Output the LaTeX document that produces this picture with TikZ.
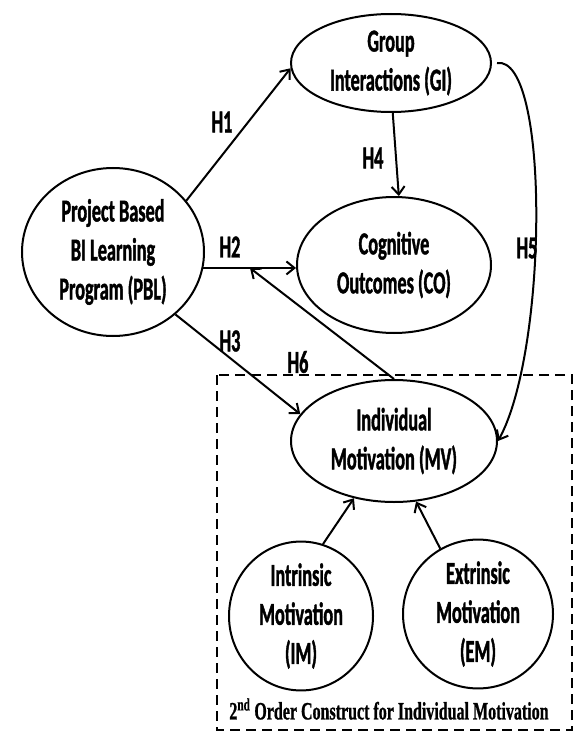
\documentclass[tikz,border=0pt]{standalone}
\usepackage{fontspec}
\usetikzlibrary{shapes.geometric,arrows.meta}
\newfontfamily\lblfont{Carlito}[FakeStretch=0.57,FakeBold=1.2]
\newfontfamily\notefont{Liberation Serif}[FakeStretch=0.64,FakeBold=0.8]

\begin{document}
\begin{tikzpicture}[x=1pt,y=-1pt]
\tikzstyle{every node}+=[inner sep=0pt]
\tikzstyle{construct}=[draw=black, line width=2pt, ellipse, align=center, font=\lblfont\bfseries\fontsize{32}{39}\selectfont]
\tikzstyle{hyp}=[draw=black, line width=2pt, -{Straight Barb[length=8pt,width=13pt,line width=2pt]}]
\tikzstyle{hlabel}=[font=\lblfont\bfseries\fontsize{32}{34}\selectfont]
\useasboundingbox (0,0) rectangle (576,738);

% constructs
\node [construct, minimum width=182pt, minimum height=168pt] (pbl) at (113,252) {Project Based\\BI Learning\\Program (PBL)};
\node [construct, minimum width=200pt, minimum height=98pt] (gi) at (391,63) {Group\\Interactions (GI)};
\node [construct, minimum width=194pt, minimum height=136pt] (co) at (394,265) {Cognitive\\Outcomes (CO)};
\node [construct, minimum width=206pt, minimum height=122pt] (mv) at (394,441) {Individual\\Motivation (MV)};
\node [construct, minimum width=144pt, minimum height=127pt] (im) at (301,616) {Intrinsic\\Motivation\\(IM)};
\node [construct, minimum width=150pt, minimum height=122pt] (em) at (478,614) {Extrinsic\\Motivation\\(EM)};

% second order box
\draw [black, line width=2pt, dash pattern=on 10pt off 6pt] (217,375) rectangle (572,730);
\node [font=\notefont\bfseries\fontsize{25}{26}\selectfont] (note) at (389,709) {2\textsuperscript{nd} Order Construct for Individual Motivation};

% hypotheses
\coordinate (h6end) at (250,268);
\draw [hyp] (pbl.35) -- (gi.183);
\draw [hyp] (pbl.-10) -- (pbl.-10 -| co.west);
\draw [hyp] (pbl.-45) -- (mv.164);
\draw [hyp] (gi.-88) -- (co.86);
\draw [hyp] ([xshift=5pt]gi.east) .. controls (550,55) and (548,350) .. (mv.east);
\draw [hyp] (mv.north) -- (h6end);
\draw [hyp] (im.73) -- (mv.235);
\draw [hyp] (em.120) -- (mv.-70);

\node [hlabel] (l1) at (222,122) {H1};
\node [hlabel] (l2) at (230,247) {H2};
\node [hlabel] (l3) at (230,341) {H3};
\node [hlabel] (l4) at (373,158) {H4};
\node [hlabel] (l5) at (527,248) {H5};
\node [hlabel] (l6) at (298,362) {H6};
\end{tikzpicture}
\end{document}
